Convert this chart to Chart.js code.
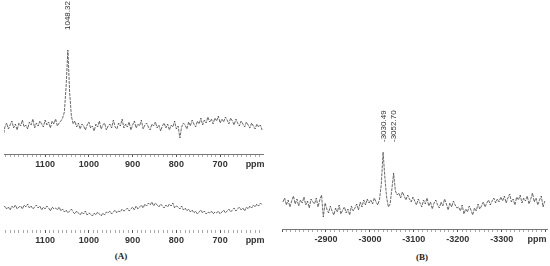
<!DOCTYPE html>
<html><head><meta charset="utf-8">
<script src="https://cdn.jsdelivr.net/npm/chart.js@4.4.1/dist/chart.umd.min.js"></script>
<style>
html,body{margin:0;padding:0;background:#fff;}
body{width:550px;height:266px;position:relative;overflow:hidden;}
.box{position:absolute;}
.cap{position:absolute;font:bold 9px "Liberation Serif",serif;color:#222;transform:translateX(-50%);white-space:nowrap;}
</style></head><body>
<div class="box" style="left:0;top:0;width:270px;height:174px"><canvas id="cA1"></canvas></div>
<div class="box" style="left:0;top:174px;width:270px;height:76px"><canvas id="cA2"></canvas></div>
<div class="box" style="left:275px;top:60px;width:275px;height:189px"><canvas id="cB"></canvas></div>
<div class="cap" style="left:121px;top:251px">(A)</div>
<div class="cap" style="left:422px;top:252px">(B)</div>
<script>
// ---------- data (ppm sampling and intensities) ----------
const aPpmStart = 1196;
const aPpmStep = -4;
const aTopValues = [
  17, 27, 31, 25, 29, 33, 26, 30, 24, 31, 28, 34, 27, 29, 25, 32, 29, 35, 26, 31, 28, 33, 30, 27, 34, 29, 32, 26, 33, 30, 35, 28, 31,
  33, 36, 42, 68, 104, 62, 38, 30,
  33, 27, 31, 25, 30, 28, 24, 29, 32, 26,
  28, 23, 30, 27, 33, 25, 29, 31, 24, 28,
  30, 26, 34, 27, 25, 31, 28, 35, 26, 30,
  27, 32, 24, 29, 33, 26, 30, 28, 34, 25,
  29, 31, 27, 24, 30, 28, 32, 26, 29, 23,
  28, 31, 26, 30, 24, 29, 27, 33, 25, 28,
  16, 27, 31, 29, 25, 32, 28, 34, 30, 27,
  33, 30, 36, 29, 34, 31, 37, 32, 35, 30,
  36, 33, 38, 31, 35, 32, 37, 34, 30, 36,
  33, 29, 35, 31, 28, 33, 30, 27, 32, 29,
  26, 31, 28, 25, 30, 27, 29, 24
];
const aBottomValues = [
  22, 24, 21, 23, 20, 24, 22, 25, 21, 23,
  24, 21, 25, 23, 26, 22, 24, 21, 23, 25,
  22, 24, 20, 23, 21, 24, 22, 19, 23, 21,
  22, 20, 23, 19, 21, 18, 20, 17, 19, 21,
  18, 16, 19, 17, 15, 18, 16, 19, 15, 17,
  16, 14, 17, 15, 18, 16, 14, 17, 15, 18,
  17, 19, 16, 18, 20, 17, 19, 18, 21, 19,
  20, 22, 19, 21, 23, 20, 24, 21, 23, 25,
  22, 26, 24, 27, 25, 28, 24, 27, 25, 23,
  26, 24, 22, 25, 23, 26, 24, 27, 22, 24,
  23, 21, 24, 20, 22, 19, 21, 18, 20, 17,
  19, 16, 18, 20, 17, 19, 16, 18, 17, 19,
  16, 18, 17, 19, 16, 18, 20, 17, 19, 21,
  18, 20, 22, 19, 21, 23, 20, 22, 19, 23,
  21, 24, 22, 25, 23, 26, 24, 27, 25
];
const bPpmStart = -2802;
const bPpmStep = -4;
const bValues = [
  27, 31, 24, 29, 22, 28, 33, 25, 30, 23, 29, 26, 32, 24, 28, 21, 30, 27, 25, 31, 22, 29, 34, 12, 26,
  20, 16, 23, 18, 14, 21, 17, 24, 15, 19, 22, 16, 20, 14, 23, 18, 21, 25, 19, 27, 22, 29, 24, 30, 26,
  29, 25, 31, 27, 24, 30, 45,
  77, 52, 32, 22, 25, 40, 56, 38, 34,
  36, 31, 37, 33, 29, 34, 30, 27, 32,
  28, 24, 30, 26, 22, 29, 25, 31, 23, 27, 20, 26, 29, 24, 21, 27, 23, 30, 25, 19, 26, 22, 28, 24, 21,
  22, 18, 24, 15, 20, 17, 23, 19, 14, 21, 18, 25, 20, 23, 27, 22, 26, 29, 24, 28, 31, 26, 30, 27, 32,
  28, 33, 26, 31, 35, 27, 30, 24, 32, 29, 34, 26, 31, 28, 33, 25, 30, 36, 27, 31, 24, 29, 33, 22, 28
];
const aTickValues = [1100, 1000, 900, 800, 700, 620];
const aTickLabels = ['1100', '1000', '900', '800', '700', 'ppm'];
const bTickValues = [-2900, -3000, -3100, -3200, -3300, -3380];
const bTickLabels = ['-2900', '-3000', '-3100', '-3200', '-3300', 'ppm'];
const aPeakPpm = [1048.32];
const aPeakLabels = ['1048.32'];
const bPeakPpm = [-3030.49, -3052.70];
const bPeakLabels = ['-3030.49', '-3052.70'];

// ---------- helpers ----------
function minorTicks(from, to, step) {
  const t = [];
  for (let v = from; step > 0 ? v <= to : v >= to; v += step) t.push(v);
  return t;
}
const peakPlugin = {
  id: 'peakLabels',
  afterDraw(chart, args, opts) {
    if (!opts || !opts.ppm) return;
    const ctx = chart.ctx, xs = chart.scales.x;
    ctx.save();
    ctx.fillStyle = '#333';
    ctx.font = '8px "Liberation Sans", Arial, sans-serif';
    ctx.textAlign = 'left';
    ctx.textBaseline = 'middle';
    opts.ppm.forEach((p, i) => {
      const x = xs.getPixelForValue(p) + (opts.dx || 0);
      ctx.save();
      ctx.translate(x, opts.yBase);
      ctx.rotate(-Math.PI / 2);
      ctx.fillText(opts.labels[i], 0, 0);
      ctx.restore();
    });
    ctx.restore();
  }
};

function makeChart(id, start, step, values, cfg) {
  const pts = values.map((v, i) => ({ x: start + step * i, y: v }));
  const ticks = cfg.minor;
  return new Chart(document.getElementById(id), {
    type: 'line',
    data: { datasets: [{ data: pts, borderColor: '#444', borderWidth: 0.8, borderDash: [3, 1], pointRadius: 0, tension: 0, fill: false }] },
    options: {
      responsive: true, maintainAspectRatio: false, animation: false,
      layout: { padding: { left: cfg.padL, right: cfg.padR, top: 0, bottom: 0 } },
      plugins: { legend: { display: false }, tooltip: { enabled: false }, peakLabels: cfg.peaks || {} },
      scales: {
        x: {
          type: 'linear', reverse: true, min: cfg.min, max: cfg.max,
          afterBuildTicks: s => { s.ticks = ticks.map(v => ({ value: v })); },
          afterFit: s => { s.height = 20; },
          ticks: {
            autoSkip: false, maxRotation: 0, padding: 2, color: '#333',
            font: { family: '"Liberation Sans", Arial, sans-serif', size: 9, weight: 'bold' },
            callback: v => { const k = cfg.labelVals.indexOf(v); return k >= 0 ? cfg.labels[k] : ''; }
          },
          grid: {
            drawOnChartArea: false, drawTicks: true, tickLength: 3, tickWidth: 1,
            tickColor: c => (c.tick && c.tick.value % 100 === 0) ? '#555' : '#aaa'
          },
          border: { display: cfg.border, color: '#777', width: 1 }
        },
        y: { display: false, min: 0, max: cfg.ymax }
      }
    },
    plugins: [peakPlugin]
  });
}

makeChart('cA1', aPpmStart, aPpmStep, aTopValues, {
  min: 602, max: 1194, padL: 4, padR: 7, ymax: 154, border: true,
  minor: minorTicks(1190, 610, -10), labelVals: aTickValues, labels: aTickLabels,
  peaks: { ppm: aPeakPpm, labels: aPeakLabels, yBase: 30, dx: 0 }
});
makeChart('cA2', aPpmStart, aPpmStep, aBottomValues, {
  min: 602, max: 1194, padL: 4, padR: 7, ymax: 56, border: false,
  minor: minorTicks(1190, 610, -10), labelVals: aTickValues, labels: aTickLabels
});
makeChart('cB', bPpmStart, bPpmStep, bValues, {
  min: -3403, max: -2800, padL: 7, padR: 3, ymax: 169, border: true,
  minor: minorTicks(-2800, -3400, -10), labelVals: bTickValues, labels: bTickLabels,
  peaks: { ppm: bPeakPpm, labels: bPeakLabels, yBase: 82, dx: 1 }
});
</script>
</body></html>
